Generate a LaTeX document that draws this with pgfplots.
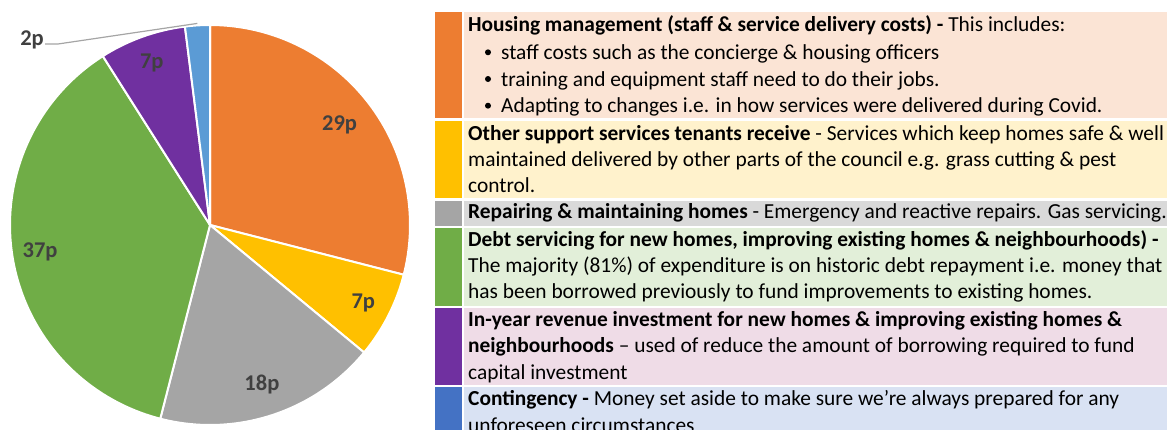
\documentclass[border=0pt]{standalone}
\usepackage{fontspec}
\setmainfont{Carlito}
\usepackage{xcolor}
\usepackage{pgfplots}
\usepackage{pgfplotstable}
\pgfplotsset{compat=1.18}

\definecolor{cOrange}{HTML}{ED7D31}
\definecolor{cYellow}{HTML}{FFC000}
\definecolor{cGray}{HTML}{A5A5A5}
\definecolor{cGreen}{HTML}{70AD47}
\definecolor{cPurple}{HTML}{7030A0}
\definecolor{cBlue}{HTML}{5B9BD5}
\definecolor{cBlueKey}{HTML}{4472C4}
\definecolor{bgOrange}{HTML}{FBE4D5}
\definecolor{bgYellow}{HTML}{FFF2CC}
\definecolor{bgGray}{HTML}{D9D9D9}
\definecolor{bgGreen}{HTML}{E2EFD9}
\definecolor{bgPurple}{HTML}{EFDCE7}
\definecolor{bgBlue}{HTML}{D9E2F3}
\definecolor{lblInk}{HTML}{404040}

% pence per pound, clockwise from 12 o'clock
\pgfplotstableread{
share
29
7
18
37
7
2
}\costs

% cumulative slice angles (kept in the preamble so no stray spaces reach the page)
\pgfplotstablegetelem{0}{share}\of\costs \let\vali\pgfplotsretval
\pgfplotstablegetelem{1}{share}\of\costs \let\valii\pgfplotsretval
\pgfplotstablegetelem{2}{share}\of\costs \let\valiii\pgfplotsretval
\pgfplotstablegetelem{3}{share}\of\costs \let\valiv\pgfplotsretval
\pgfplotstablegetelem{4}{share}\of\costs \let\valv\pgfplotsretval
\pgfplotstablegetelem{5}{share}\of\costs \let\valvi\pgfplotsretval
\pgfmathsetmacro\angi{90}
\pgfmathsetmacro\angii{\angi-3.6*\vali}
\pgfmathsetmacro\angiii{\angii-3.6*\valii}
\pgfmathsetmacro\angiv{\angiii-3.6*\valiii}
\pgfmathsetmacro\angv{\angiv-3.6*\valiv}
\pgfmathsetmacro\angvi{\angv-3.6*\valv}
\pgfmathsetmacro\angvii{\angvi-3.6*\valvi}
\pgfmathsetmacro\midi{(\angi+\angii)/2}
\pgfmathsetmacro\midii{(\angii+\angiii)/2}
\pgfmathsetmacro\midiii{(\angiii+\angiv)/2}
\pgfmathsetmacro\midiv{(\angiv+\angv)/2}
\pgfmathsetmacro\midv{(\angv+\angvi)/2}
\pgfmathsetmacro\midvi{(\angvi+\angvii)/2}

\begin{document}
\begin{tikzpicture}[
  lbl/.style={font=\fontsize{22.5bp}{22.5bp}\selectfont\bfseries, text=lblInk, inner sep=0pt},
  slice/.style={draw=white, line width=2bp, line join=round, samples=90},
  txt/.style={anchor=base west, inner sep=0pt, font=\fontsize{21.4bp}{26bp}\selectfont},
]
\useasboundingbox (0,0) rectangle (1167bp,-430bp);
\clip (0,0) rectangle (1167bp,-430bp);

\begin{axis}[
  at={(210bp,-225bp)}, anchor=center,
  width=400bp, height=400bp, scale only axis,
  xmin=-1, xmax=1, ymin=-1, ymax=1,
  hide axis, clip=false,
]
\addplot[slice, fill=cOrange, domain=\angii:\angi] ({cos(x)},{sin(x)}) -- (axis cs:0,0) -- cycle;
\addplot[slice, fill=cYellow, domain=\angiii:\angii] ({cos(x)},{sin(x)}) -- (axis cs:0,0) -- cycle;
\addplot[slice, fill=cGray, domain=\angiv:\angiii] ({cos(x)},{sin(x)}) -- (axis cs:0,0) -- cycle;
\addplot[slice, fill=cGreen, domain=\angv:\angiv] ({cos(x)},{sin(x)}) -- (axis cs:0,0) -- cycle;
\addplot[slice, fill=cPurple, domain=\angvi:\angv] ({cos(x)},{sin(x)}) -- (axis cs:0,0) -- cycle;
\addplot[slice, fill=cBlue, domain=\angvii:\angvi] ({cos(x)},{sin(x)}) -- (axis cs:0,0) -- cycle;

\node[lbl] at (axis cs:{0.82*cos(\midi)},{0.82*sin(\midi)}) {\vali p};
\node[lbl] at (axis cs:{0.86*cos(\midii)},{0.86*sin(\midii)}) {\valii p};
\node[lbl] at (axis cs:{0.84*cos(\midiii)},{0.84*sin(\midiii)}) {\valiii p};
\node[lbl] at (axis cs:{0.86*cos(\midiv)},{0.86*sin(\midiv)}) {\valiv p};
\node[lbl] at (axis cs:{0.86*cos(\midv)},{0.86*sin(\midv)}) {\valv p};
\node[lbl] at (axis cs:-0.89,0.925) {\valvi p};
\draw[color=cGray, line width=1.2bp] (axis cs:-0.825,0.905) -- (axis cs:-0.76,0.905)
  -- (axis cs:{1.01*cos(\midvi)},{1.01*sin(\midvi)});
\end{axis}

\begin{scope}[x=1bp, y=-1bp]
  % colour keys and row backgrounds
  \fill[cOrange] (435,12) rectangle (462,118);
  \fill[bgOrange] (464,12) rectangle (1167,118);
  \fill[cYellow] (435,121) rectangle (462,198);
  \fill[bgYellow] (464,121) rectangle (1167,198);
  \fill[cGray] (435,201) rectangle (462,226);
  \fill[bgGray] (464,201) rectangle (1167,226);
  \fill[cGreen] (435,228) rectangle (462,306);
  \fill[bgGreen] (464,228) rectangle (1167,306);
  \fill[cPurple] (435,308) rectangle (462,385);
  \fill[bgPurple] (464,308) rectangle (1167,385);
  \fill[cBlueKey] (435,387) rectangle (462,440);
  \fill[bgBlue] (464,387) rectangle (1167,440);

  \node[txt] at (468,31.7) {\textbf{Housing management (staff \& service delivery costs) -} This includes:};
  \fill (488,52.3) circle (3);
  \node[txt] at (501,59.3) {staff costs such as the concierge \& housing officers};
  \fill (488,79) circle (3);
  \node[txt] at (501,86) {training and equipment staff need to do their jobs.};
  \fill (488,105.7) circle (3);
  \node[txt] at (501,112.7) {Adapting to changes i.e. in how services were delivered during Covid.};

  \node[txt] at (468,140) {\textbf{Other support services tenants receive} - Services which keep homes safe \& well};
  \node[txt] at (468,166.3) {maintained delivered by other parts of the council e.g. grass cutting \& pest};
  \node[txt] at (468,192.7) {control.};

  \node[txt] at (468,218.3) {\textbf{Repairing \& maintaining homes} - Emergency and reactive repairs. Gas servicing.};

  \node[txt] at (468,246.7) {\textbf{Debt servicing for new homes, improving existing homes \& neighbourhoods) -}};
  \node[txt] at (468,272.5) {The majority (81\%) of expenditure is on historic debt repayment i.e. money that};
  \node[txt] at (468,298.3) {has been borrowed previously to fund improvements to existing homes.};

  \node[txt] at (468,326.7) {\textbf{In-year revenue investment for new homes \& improving existing homes \&}};
  \node[txt] at (468,352.8) {\textbf{neighbourhoods} – used of reduce the amount of borrowing required to fund};
  \node[txt] at (468,379) {capital investment};

  \node[txt] at (468,405.7) {\textbf{Contingency -} Money set aside to make sure we’re always prepared for any};
  \node[txt] at (468,432) {unforeseen circumstances};
\end{scope}
\end{tikzpicture}
\end{document}
